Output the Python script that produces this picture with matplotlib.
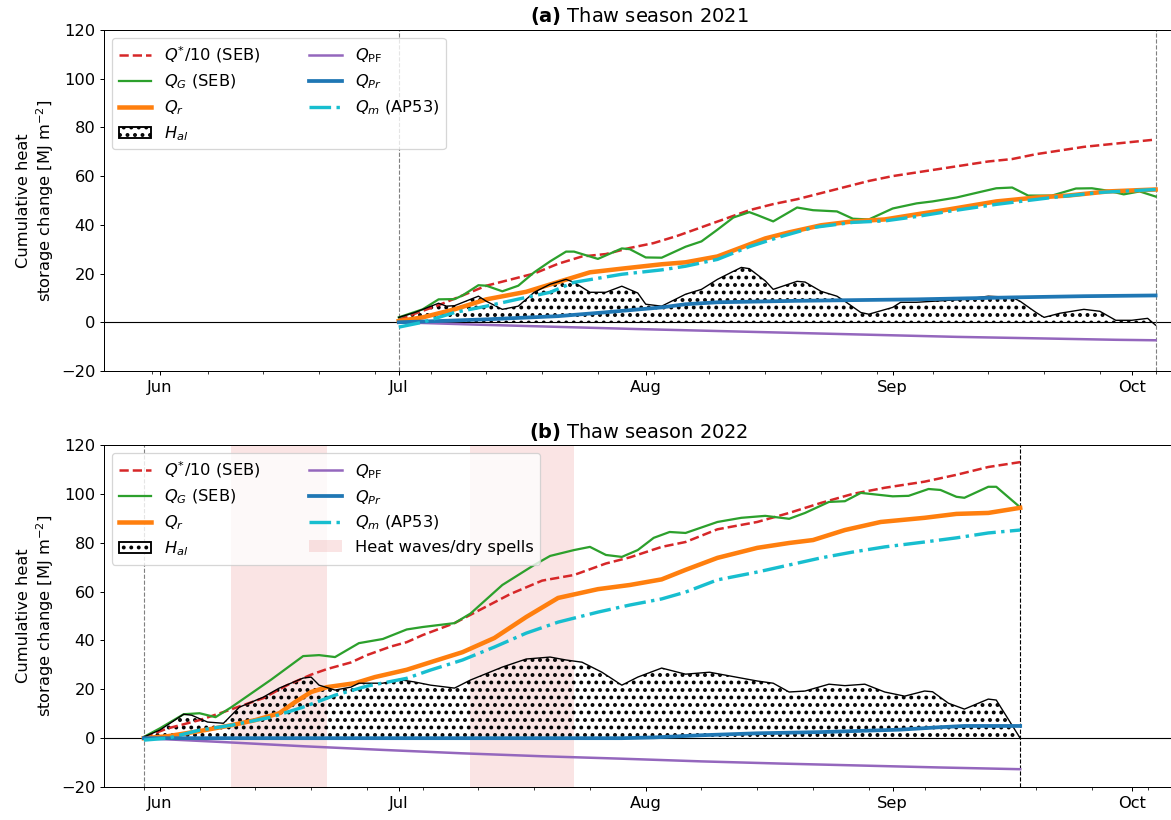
import numpy as np
import matplotlib
matplotlib.use("Agg")
import matplotlib.pyplot as plt
import matplotlib.dates as mdates
from matplotlib.patches import Patch
from matplotlib.lines import Line2D

plt.rcParams['font.size'] = 13
plt.rcParams['hatch.linewidth'] = 1.9

# ---- thaw season 2021, (day since 2021-07-01, value) in MJ m-2
qstar_21 = [(0, 1), (2, 3.5), (5, 7), (8, 11), (11, 15), (14, 17.5), (17, 20), (20, 24), (23, 27),
            (26, 28), (29, 30.5), (32, 32.5), (35, 35.5), (38, 39), (41, 42.5), (44, 46), (47, 48.5),
            (50, 50.5), (53, 53), (56, 55.5), (59, 58), (62, 60), (65, 61.5), (68, 63), (71, 64.5),
            (74, 66), (77, 67), (80, 69), (83, 70.5), (86, 72), (89, 73), (92, 74), (95, 75)]
qg_21 = [(0, 2), (3, 5.3), (5, 9.4), (7, 9.5), (8, 11), (10, 15.2), (11, 15), (13, 12.7), (15, 15),
         (17, 20.5), (19, 25), (21, 29), (22, 29), (25, 26), (28, 30.3), (29, 30), (31, 26.6),
         (33, 26.5), (36, 31), (38, 33.2), (40, 38), (42, 43), (44, 45.2), (45, 44), (47, 41.4),
         (50, 47.1), (52, 46), (55, 45.5), (57, 42.5), (59, 42.2), (62, 46.7), (65, 48.8), (67, 49.6),
         (70, 51.2), (73, 53.5), (75, 55), (77, 55.3), (79, 52), (82, 52), (85, 54.9), (87, 55),
         (89, 54), (91, 52.5), (93, 53.7), (95, 51.6)]
qr_21 = [(0, 0.5), (3, 2), (7, 5.3), (11, 9.4), (16, 12.5), (20, 16.5), (24, 20.5), (28, 22),
         (33, 23.8), (36, 24.6), (40, 27), (43, 30.7), (46, 34.4), (49, 36.9), (53, 39.8), (57, 41.4),
         (61, 42.2), (65, 44.3), (69, 46.3), (75, 49.6), (80, 51.2), (84, 52), (89, 53.7), (95, 54.5)]
hal_21 = [(0, 2), (2, 4), (5, 7.8), (6, 6.6), (7, 6.8), (10, 10.7), (11, 8.6), (13, 5.3), (15, 6.6),
          (17, 12.3), (19, 15.6), (21, 17.6), (22, 16.4), (24, 12.3), (26, 12.3), (28, 14.8), (30, 12),
          (31, 7.4), (33, 6.6), (36, 11.5), (38, 13.5), (40, 17.6), (42, 20.9), (43, 22.5), (44, 22),
          (46, 17), (47, 13.5), (50, 16.8), (51, 16.5), (53, 12.7), (55, 10.7), (56, 8.6), (58, 4),
          (59, 3.3), (62, 6.1), (63, 8.2), (65, 8.2), (71, 9.4), (74, 10.7), (77, 10.2), (78, 8.6),
          (80, 4), (81, 2), (83, 3.7), (86, 5.3), (88, 4.5), (90, 0.8), (92, 0.8), (94, 1.6), (95, -1.2)]
qpf_21 = [(0, 0), (10, -1), (20, -1.9), (30, -2.8), (40, -3.6), (50, -4.4), (60, -5.2), (70, -6),
          (80, -6.6), (90, -7.2), (95, -7.4)]
qpr_21 = [(0, 0), (5, 0.5), (11, 1.2), (20, 2.5), (26, 4.1), (33, 6.1), (36, 7.4), (40, 8.2),
          (50, 8.8), (65, 9.4), (77, 10.2), (86, 10.7), (95, 11)]
qm_21 = [(0, -2), (3, 0), (7, 4), (11, 6.6), (15, 9.5), (19, 12.3), (22, 16.4), (28, 19.7), (33, 21.5),
         (36, 23), (40, 25.8), (44, 31), (48, 35.2), (52, 38.9), (57, 41), (61, 41.6), (65, 43.4),
         (69, 45.5), (75, 48.4), (82, 51.2), (88, 53.3), (95, 54.5)]

# ---- thaw season 2022, (day since 2022-05-30, value)
qstar_22 = [(0, 0.4), (3, 4), (7, 7.4), (10, 10.7), (15, 16.4), (18, 21.7), (21, 26), (23, 28.3),
            (26, 31), (28, 34), (31, 37.5), (33, 39.3), (35, 42.2), (39, 47.1), (41, 50.5), (46, 59),
            (50, 64.5), (54, 66.8), (58, 71.5), (61, 74), (65, 78.3), (68, 80.3), (72, 85.5), (77, 88.5),
            (81, 92.2), (85, 96.3), (89, 100), (93, 102.5), (98, 105), (102, 107.8), (106, 111), (110, 113)]
qg_22 = [(0, 0.5), (2, 4), (5, 9.8), (7, 10.2), (9, 8.6), (11, 12.7), (16, 24), (20, 33.6), (22, 34),
         (24, 33.2), (27, 38.9), (30, 40.6), (33, 44.5), (35, 45.5), (39, 47.1), (41, 51), (45, 62.7),
         (49, 70.9), (51, 74.6), (54, 77), (56, 78.3), (58, 75), (60, 74.2), (62, 77), (64, 82),
         (66, 84.4), (68, 84), (72, 88.5), (75, 90.2), (78, 91), (81, 89.8), (83, 92.2), (86, 96.7),
         (88, 97), (90, 100.4), (94, 99), (96, 99.2), (98.5, 102), (100, 101.6), (102, 98.8),
         (103, 98.4), (106, 102.9), (107, 102.9), (110, 94.5)]
qr_22 = [(0, 0), (3, 0.8), (7, 2.9), (11, 5.3), (14, 7.4), (17, 10.2), (19, 14.8), (21, 18.9),
         (23, 20.9), (26.5, 22.5), (29, 25), (33, 28), (36, 31.1), (40, 35.2), (44, 41), (48, 49.6),
         (52, 57.4), (57, 61), (61, 62.7), (65, 65), (68, 68.9), (72, 73.8), (77, 77.9), (81, 79.9),
         (84, 81.1), (88, 85.2), (92.5, 88.5), (98, 90.2), (102, 91.8), (106, 92.2), (110, 94.3)]
hal_22 = [(0, 0.5), (2, 3.3), (5, 9.8), (6, 9.4), (8, 6.6), (10, 6.1), (11, 9.4), (12, 12.7),
          (15, 16.8), (17, 20.5), (20, 24.6), (21, 25), (22, 21.7), (24, 19.7), (26, 20.9), (27, 22.5),
          (30, 22.5), (32, 24), (34, 23), (36, 21.7), (39, 20.5), (41, 23.8), (45, 29.1), (48, 32.4),
          (51, 33.2), (53, 32), (55, 31.1), (57.5, 27), (60, 21.7), (62, 25), (65, 28.7), (68, 26.2),
          (71, 27), (73, 25.8), (77, 23.4), (79, 22.5), (81, 18.9), (83, 19.3), (86, 22.1), (88, 21.5),
          (90.5, 22.1), (93, 18.9), (95.5, 17.2), (98, 19.3), (99, 19), (101, 14.3), (103, 11.9),
          (106, 16), (107, 15.6), (110, 0)]
qpf_22 = [(0, 0), (10, -1.6), (20, -3.3), (30, -4.8), (40, -6.2), (50, -7.4), (60, -8.4), (70, -9.5),
          (80, -10.4), (90, -11.2), (100, -12), (110, -12.7)]
qpr_22 = [(0, 0), (60, 0), (64, 0.3), (70, 1.2), (77, 2), (85, 2.5), (90, 3), (95, 3.5), (100, 4.5),
          (103, 5), (110, 5)]
qm_22 = [(0, -0.8), (3, 0), (7, 3.3), (11, 5.3), (16, 8.6), (20, 12.7), (24, 17.6), (28, 21.3),
         (33, 24.5), (36, 27.9), (40, 32), (44, 37.3), (48, 43), (52, 47.5), (57, 51.6), (61, 54.5),
         (65, 57), (68, 59.8), (72, 64.8), (77, 68), (81, 70.9), (85, 73.8), (89, 76.2), (93, 78.3),
         (98, 80.3), (102, 82), (106, 84), (110, 85.2)]

# heat waves / dry spells in 2022
heatwaves_22 = [('2022-06-10', '2022-06-22'), ('2022-07-10', '2022-07-23')]

labels = [r'$Q^{*}/10$ (SEB)', r'$Q_G$ (SEB)', r'$Q_r$', r'$H_{al}$',
          r'$Q_{\rm PF}$', r'$Q_{Pr}$', r'$Q_m$ (AP53)']


def to_xy(series, start):
    d, v = zip(*series)
    return mdates.date2num(np.datetime64(start)) + np.array(d, dtype=float), np.array(v)


def draw_season(ax, year, start, end, data, title, end_color):
    qstar, qg, qr, hal, qpf, qpr, qm = [to_xy(s, start) for s in data]
    ax.axhline(0, color='k', lw=0.9, zorder=1)
    ax.axvline(mdates.date2num(np.datetime64(start)), color='grey', ls='--', lw=0.9)
    ax.axvline(mdates.date2num(np.datetime64(end)), color=end_color, ls='--', lw=0.9)

    ax.plot(*qstar, color='tab:red', ls='--', lw=2)
    ax.plot(*qg, color='tab:green', lw=1.8)
    ax.plot(*qr, color='tab:orange', lw=3.6)
    ax.fill_between(hal[0], 0, hal[1], facecolor='none', edgecolor='k', hatch='..', lw=0)
    ax.plot(*hal, color='k', lw=1.1)
    ax.plot(*qpf, color='tab:purple', lw=2)
    ax.plot(*qpr, color='tab:blue', lw=3)
    ax.plot(*qm, color='tab:cyan', ls='-.', lw=2.7)

    ax.set_xlim(mdates.date2num(np.datetime64(f'{year}-05-25')),
                mdates.date2num(np.datetime64(f'{year}-10-06')) + 0.3)
    ax.set_ylim(-20, 120)
    ax.set_yticks(np.arange(-20, 121, 20))
    ax.xaxis_date()
    ax.xaxis.set_major_locator(mdates.MonthLocator())
    ax.xaxis.set_major_formatter(mdates.DateFormatter('%b'))
    ax.xaxis.set_minor_locator(mdates.WeekdayLocator(byweekday=mdates.MO))
    ax.set_ylabel('Cumulative heat\nstorage change [MJ m$^{-2}$]')
    ax.set_title(title, fontsize=15.5)


def legend_handles():
    return [Line2D([], [], color='tab:red', ls='--', lw=2),
            Line2D([], [], color='tab:green', lw=1.8),
            Line2D([], [], color='tab:orange', lw=3.6),
            Patch(facecolor='white', edgecolor='k', hatch='..', lw=1.5),
            Line2D([], [], color='tab:purple', lw=2),
            Line2D([], [], color='tab:blue', lw=3),
            Line2D([], [], color='tab:cyan', ls='-.', lw=2.7)]


fig = plt.figure(figsize=(1171 / 90, 820 / 90), dpi=90)
ax1 = fig.add_axes([0.0888, 0.5476, 0.9137, 0.4159])
ax2 = fig.add_axes([0.0888, 0.0402, 0.9137, 0.4171])

draw_season(ax1, 2021, '2021-07-01', '2021-10-04',
            [qstar_21, qg_21, qr_21, hal_21, qpf_21, qpr_21, qm_21],
            r'$\bf{(a)}$ Thaw season 2021', 'grey')
ax1.legend(legend_handles(), labels, ncol=2, loc='upper left', columnspacing=3,
           labelspacing=0.45)

for s, e in heatwaves_22:
    ax2.axvspan(mdates.date2num(np.datetime64(s)), mdates.date2num(np.datetime64(e)),
                color='tab:red', alpha=0.12, lw=0, zorder=0)
draw_season(ax2, 2022, '2022-05-30', '2022-09-17',
            [qstar_22, qg_22, qr_22, hal_22, qpf_22, qpr_22, qm_22],
            r'$\bf{(b)}$ Thaw season 2022', 'k')
ax2.legend(legend_handles() + [Patch(facecolor='tab:red', alpha=0.12)],
           labels + ['Heat waves/dry spells'], ncol=2, loc='upper left', columnspacing=3,
           labelspacing=0.45)

fig.savefig('out.png', dpi=90)
